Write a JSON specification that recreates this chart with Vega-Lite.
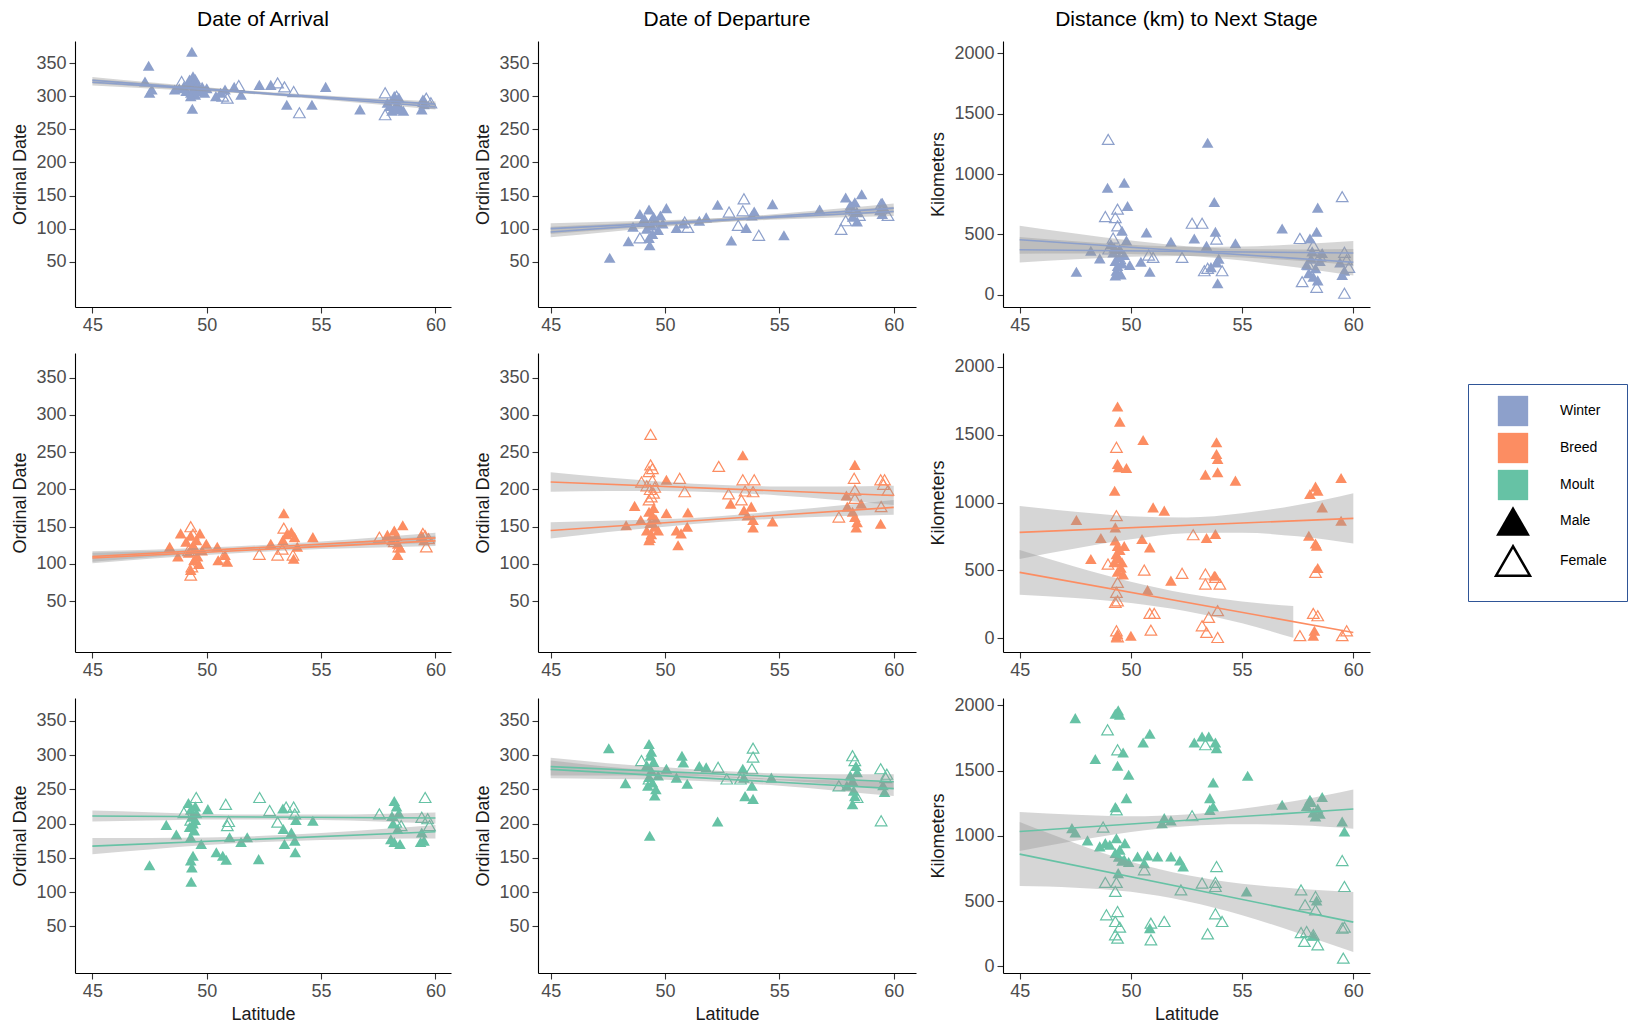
{
"$schema": "https://vega.github.io/schema/vega-lite/v6.json",
"autosize": {"type": "pad"},
"padding": {"left": 11, "top": 9, "right": 2, "bottom": 2},
"background": "white",
"datasets": {
"wa": [
{"sex":"M","lat":47.46,"value":346},{"sex":"M","lat":49.35,"value":367},{"sex":"M","lat":47.5,"value":305},{"sex":"M","lat":47.3,"value":322},{"sex":"M","lat":47.6,"value":310},{"sex":"M","lat":49.37,"value":281},
{"sex":"M","lat":48.6,"value":310},{"sex":"M","lat":48.8,"value":312},{"sex":"M","lat":49.0,"value":315},{"sex":"M","lat":49.1,"value":308},{"sex":"M","lat":49.2,"value":318},{"sex":"M","lat":49.25,"value":325},{"sex":"M","lat":49.3,"value":305},{"sex":"M","lat":49.35,"value":320},{"sex":"M","lat":49.4,"value":330},{"sex":"M","lat":49.45,"value":312},{"sex":"M","lat":49.5,"value":326},{"sex":"M","lat":49.5,"value":302},{"sex":"M","lat":49.6,"value":318},{"sex":"M","lat":49.7,"value":308},{"sex":"M","lat":49.8,"value":314},{"sex":"M","lat":49.9,"value":305},{"sex":"M","lat":50.0,"value":312},{"sex":"M","lat":49.3,"value":300},
{"sex":"M","lat":50.4,"value":300},{"sex":"M","lat":50.6,"value":305},{"sex":"M","lat":50.8,"value":310},{"sex":"M","lat":51.2,"value":314},{"sex":"M","lat":51.5,"value":302},{"sex":"M","lat":52.3,"value":317},{"sex":"M","lat":52.8,"value":317},{"sex":"M","lat":53.5,"value":287},{"sex":"M","lat":54.6,"value":287},{"sex":"M","lat":55.2,"value":314},{"sex":"M","lat":56.7,"value":280},
{"sex":"M","lat":57.9,"value":290},{"sex":"M","lat":58.0,"value":285},{"sex":"M","lat":58.1,"value":278},{"sex":"M","lat":58.2,"value":300},{"sex":"M","lat":58.25,"value":295},{"sex":"M","lat":58.3,"value":288},{"sex":"M","lat":58.35,"value":282},{"sex":"M","lat":58.4,"value":298},{"sex":"M","lat":58.5,"value":280},{"sex":"M","lat":58.6,"value":278},{"sex":"M","lat":59.45,"value":295},{"sex":"M","lat":59.4,"value":280},{"sex":"M","lat":59.5,"value":288},
{"sex":"F","lat":48.9,"value":322},{"sex":"F","lat":49.5,"value":318},{"sex":"F","lat":50.7,"value":300},{"sex":"F","lat":50.9,"value":297},{"sex":"F","lat":51.4,"value":316},{"sex":"F","lat":53.1,"value":320},{"sex":"F","lat":53.4,"value":314},{"sex":"F","lat":53.8,"value":307},{"sex":"F","lat":54.05,"value":275},{"sex":"F","lat":57.8,"value":305},{"sex":"F","lat":57.8,"value":272},{"sex":"F","lat":58.2,"value":290},{"sex":"F","lat":58.3,"value":300},{"sex":"F","lat":59.6,"value":297},{"sex":"F","lat":59.8,"value":290},{"sex":"F","lat":59.5,"value":292}
],
"wd": [
{"sex":"M","lat":47.58,"value":56},{"sex":"M","lat":48.4,"value":81},{"sex":"M","lat":49.33,"value":75},{"sex":"M","lat":49.3,"value":86},{"sex":"M","lat":48.9,"value":122},{"sex":"M","lat":49.3,"value":129},{"sex":"M","lat":50.06,"value":131},{"sex":"M","lat":49.8,"value":120},{"sex":"M","lat":49.0,"value":110},{"sex":"M","lat":49.2,"value":100},{"sex":"M","lat":49.4,"value":105},{"sex":"M","lat":49.5,"value":118},{"sex":"M","lat":49.6,"value":112},{"sex":"M","lat":49.7,"value":98},{"sex":"M","lat":49.45,"value":92},{"sex":"M","lat":49.1,"value":115},{"sex":"M","lat":48.6,"value":103},{"sex":"M","lat":49.9,"value":108},{"sex":"M","lat":50.5,"value":101},{"sex":"M","lat":50.8,"value":108},{"sex":"M","lat":51.5,"value":112},{"sex":"M","lat":51.8,"value":117},{"sex":"M","lat":52.3,"value":136},{"sex":"M","lat":52.9,"value":82},{"sex":"M","lat":53.55,"value":101},{"sex":"M","lat":53.9,"value":126},{"sex":"M","lat":53.8,"value":120},{"sex":"M","lat":54.7,"value":137},{"sex":"M","lat":55.2,"value":90},{"sex":"M","lat":56.76,"value":129},{"sex":"M","lat":57.9,"value":147},{"sex":"M","lat":58.3,"value":140},{"sex":"M","lat":58.6,"value":152},{"sex":"M","lat":58.4,"value":125},{"sex":"M","lat":58.4,"value":111},{"sex":"M","lat":58.1,"value":135},{"sex":"M","lat":58.2,"value":118},{"sex":"M","lat":59.5,"value":139},{"sex":"M","lat":59.5,"value":122},{"sex":"M","lat":59.6,"value":130},{"sex":"M","lat":59.4,"value":128},
{"sex":"F","lat":48.9,"value":86},{"sex":"F","lat":49.4,"value":110},{"sex":"F","lat":50.86,"value":110},{"sex":"F","lat":51.0,"value":102},{"sex":"F","lat":52.8,"value":125},{"sex":"F","lat":53.2,"value":105},{"sex":"F","lat":53.45,"value":145},{"sex":"F","lat":53.4,"value":127},{"sex":"F","lat":54.1,"value":90},{"sex":"F","lat":57.7,"value":99},{"sex":"F","lat":57.9,"value":112},{"sex":"F","lat":58.15,"value":132},{"sex":"F","lat":58.5,"value":120},{"sex":"F","lat":59.45,"value":137},{"sex":"F","lat":59.75,"value":120},{"sex":"F","lat":58.3,"value":128}
],
"wk": [
{"sex":"M","lat":48.95,"value":887},{"sex":"M","lat":49.7,"value":928},{"sex":"M","lat":49.85,"value":736},{"sex":"M","lat":49.6,"value":530},{"sex":"M","lat":50.7,"value":516},{"sex":"M","lat":47.55,"value":192},{"sex":"M","lat":48.2,"value":365},{"sex":"M","lat":48.6,"value":302},{"sex":"M","lat":49.1,"value":420},{"sex":"M","lat":49.2,"value":350},{"sex":"M","lat":49.3,"value":280},{"sex":"M","lat":49.35,"value":200},{"sex":"M","lat":49.4,"value":240},{"sex":"M","lat":49.45,"value":310},{"sex":"M","lat":49.5,"value":380},{"sex":"M","lat":49.55,"value":170},{"sex":"M","lat":49.6,"value":260},{"sex":"M","lat":49.7,"value":330},{"sex":"M","lat":49.8,"value":450},{"sex":"M","lat":49.3,"value":160},{"sex":"M","lat":49.25,"value":390},{"sex":"M","lat":49.95,"value":247},{"sex":"M","lat":50.45,"value":275},{"sex":"M","lat":50.85,"value":192},{"sex":"M","lat":51.8,"value":440},{"sex":"M","lat":52.85,"value":467},{"sex":"M","lat":53.45,"value":1258},{"sex":"M","lat":53.4,"value":407},{"sex":"M","lat":53.75,"value":769},{"sex":"M","lat":53.8,"value":522},{"sex":"M","lat":53.85,"value":269},{"sex":"M","lat":53.9,"value":96},{"sex":"M","lat":53.6,"value":230},{"sex":"M","lat":53.95,"value":300},{"sex":"M","lat":54.7,"value":428},{"sex":"M","lat":56.8,"value":549},{"sex":"M","lat":58.05,"value":467},{"sex":"M","lat":58.35,"value":522},{"sex":"M","lat":58.4,"value":722},{"sex":"M","lat":57.9,"value":250},{"sex":"M","lat":58.0,"value":180},{"sex":"M","lat":58.1,"value":300},{"sex":"M","lat":58.2,"value":150},{"sex":"M","lat":58.3,"value":220},{"sex":"M","lat":58.4,"value":120},{"sex":"M","lat":58.5,"value":280},{"sex":"M","lat":58.6,"value":346},{"sex":"M","lat":58.15,"value":360},{"sex":"M","lat":59.5,"value":165},{"sex":"M","lat":59.4,"value":269},{"sex":"M","lat":59.6,"value":200},
{"sex":"F","lat":48.98,"value":1286},{"sex":"F","lat":48.85,"value":648},{"sex":"F","lat":49.4,"value":709},{"sex":"F","lat":49.3,"value":640},{"sex":"F","lat":49.4,"value":571},{"sex":"F","lat":49.2,"value":470},{"sex":"F","lat":49.0,"value":380},{"sex":"F","lat":49.5,"value":300},{"sex":"F","lat":51.0,"value":310},{"sex":"F","lat":50.8,"value":330},{"sex":"F","lat":52.3,"value":310},{"sex":"F","lat":52.75,"value":593},{"sex":"F","lat":53.2,"value":593},{"sex":"F","lat":53.45,"value":220},{"sex":"F","lat":53.3,"value":200},{"sex":"F","lat":53.85,"value":461},{"sex":"F","lat":54.1,"value":200},{"sex":"F","lat":57.6,"value":467},{"sex":"F","lat":57.7,"value":110},{"sex":"F","lat":58.35,"value":63},{"sex":"F","lat":58.0,"value":250},{"sex":"F","lat":58.2,"value":410},{"sex":"F","lat":58.5,"value":320},{"sex":"F","lat":59.5,"value":813},{"sex":"F","lat":59.6,"value":14},{"sex":"F","lat":59.6,"value":352},{"sex":"F","lat":59.8,"value":228},{"sex":"F","lat":59.7,"value":290}
],
"ba": [
{"sex":"M","lat":48.38,"value":123},{"sex":"M","lat":48.74,"value":110},{"sex":"M","lat":48.86,"value":141},{"sex":"M","lat":49.3,"value":92},{"sex":"M","lat":49.1,"value":130},{"sex":"M","lat":49.2,"value":115},{"sex":"M","lat":49.3,"value":138},{"sex":"M","lat":49.4,"value":125},{"sex":"M","lat":49.45,"value":105},{"sex":"M","lat":49.5,"value":120},{"sex":"M","lat":49.55,"value":132},{"sex":"M","lat":49.6,"value":110},{"sex":"M","lat":49.7,"value":141},{"sex":"M","lat":49.65,"value":100},{"sex":"M","lat":49.98,"value":127},{"sex":"M","lat":49.8,"value":118},{"sex":"M","lat":50.46,"value":123},{"sex":"M","lat":50.5,"value":105},{"sex":"M","lat":50.9,"value":103},{"sex":"M","lat":50.8,"value":112},{"sex":"M","lat":52.8,"value":127},{"sex":"M","lat":53.37,"value":168},{"sex":"M","lat":53.33,"value":132},{"sex":"M","lat":53.7,"value":143},{"sex":"M","lat":53.84,"value":136},{"sex":"M","lat":53.8,"value":107},{"sex":"M","lat":53.96,"value":123},{"sex":"M","lat":53.5,"value":140},{"sex":"M","lat":54.64,"value":136},{"sex":"M","lat":57.9,"value":139},{"sex":"M","lat":58.2,"value":145},{"sex":"M","lat":58.35,"value":127},{"sex":"M","lat":58.35,"value":112},{"sex":"M","lat":58.57,"value":152},{"sex":"M","lat":58.1,"value":132},{"sex":"M","lat":58.3,"value":138},{"sex":"M","lat":58.45,"value":122},{"sex":"M","lat":59.5,"value":132},{"sex":"M","lat":59.4,"value":138},
{"sex":"F","lat":49.3,"value":150},{"sex":"F","lat":49.3,"value":85},{"sex":"F","lat":49.35,"value":96},{"sex":"F","lat":49.4,"value":140},{"sex":"F","lat":49.2,"value":118},{"sex":"F","lat":49.5,"value":106},{"sex":"F","lat":50.7,"value":108},{"sex":"F","lat":52.3,"value":113},{"sex":"F","lat":53.1,"value":112},{"sex":"F","lat":53.37,"value":148},{"sex":"F","lat":53.3,"value":120},{"sex":"F","lat":53.77,"value":112},{"sex":"F","lat":57.55,"value":136},{"sex":"F","lat":58.4,"value":123},{"sex":"F","lat":58.2,"value":130},{"sex":"F","lat":59.45,"value":141},{"sex":"F","lat":59.6,"value":123},{"sex":"F","lat":59.7,"value":134},{"sex":"F","lat":59.55,"value":138}
],
"bd": [
{"sex":"F","lat":49.37,"value":274},{"sex":"F","lat":49.37,"value":233},{"sex":"F","lat":49.3,"value":224},{"sex":"F","lat":49.45,"value":228},{"sex":"F","lat":48.97,"value":210},{"sex":"F","lat":49.2,"value":205},{"sex":"F","lat":49.35,"value":200},{"sex":"F","lat":49.4,"value":190},{"sex":"F","lat":49.5,"value":195},{"sex":"F","lat":49.3,"value":186},{"sex":"F","lat":49.45,"value":212},{"sex":"F","lat":49.55,"value":203},{"sex":"F","lat":50.64,"value":215},{"sex":"F","lat":50.86,"value":197},{"sex":"F","lat":52.35,"value":231},{"sex":"F","lat":52.78,"value":194},{"sex":"F","lat":53.4,"value":213},{"sex":"F","lat":53.34,"value":186},{"sex":"F","lat":53.9,"value":213},{"sex":"F","lat":53.85,"value":197},{"sex":"F","lat":53.5,"value":198},{"sex":"F","lat":58.27,"value":215},{"sex":"F","lat":58.3,"value":199},{"sex":"F","lat":57.6,"value":163},{"sex":"F","lat":58.3,"value":188},{"sex":"F","lat":59.43,"value":213},{"sex":"F","lat":59.6,"value":213},{"sex":"F","lat":59.75,"value":199},{"sex":"F","lat":59.45,"value":177},{"sex":"F","lat":59.55,"value":207},
{"sex":"M","lat":48.67,"value":178},{"sex":"M","lat":48.3,"value":152},{"sex":"M","lat":48.94,"value":159},{"sex":"M","lat":49.3,"value":132},{"sex":"M","lat":49.2,"value":145},{"sex":"M","lat":49.3,"value":170},{"sex":"M","lat":49.35,"value":155},{"sex":"M","lat":49.4,"value":140},{"sex":"M","lat":49.45,"value":165},{"sex":"M","lat":49.5,"value":175},{"sex":"M","lat":49.55,"value":150},{"sex":"M","lat":49.6,"value":160},{"sex":"M","lat":49.7,"value":145},{"sex":"M","lat":49.35,"value":135},{"sex":"M","lat":50.06,"value":213},{"sex":"M","lat":50.06,"value":168},{"sex":"M","lat":50.5,"value":145},{"sex":"M","lat":50.57,"value":125},{"sex":"M","lat":50.7,"value":141},{"sex":"M","lat":50.97,"value":150},{"sex":"M","lat":51.0,"value":169},{"sex":"M","lat":52.87,"value":181},{"sex":"M","lat":53.4,"value":246},{"sex":"M","lat":53.45,"value":172},{"sex":"M","lat":53.77,"value":177},{"sex":"M","lat":53.85,"value":159},{"sex":"M","lat":53.85,"value":149},{"sex":"M","lat":53.6,"value":165},{"sex":"M","lat":54.7,"value":157},{"sex":"M","lat":58.3,"value":233},{"sex":"M","lat":57.93,"value":192},{"sex":"M","lat":57.97,"value":177},{"sex":"M","lat":58.3,"value":163},{"sex":"M","lat":58.36,"value":149},{"sex":"M","lat":58.58,"value":181},{"sex":"M","lat":58.2,"value":170},{"sex":"M","lat":58.4,"value":156},{"sex":"M","lat":59.43,"value":154}
],
"bk": [
{"sex":"M","lat":49.4,"value":1706},{"sex":"M","lat":49.5,"value":1595},{"sex":"M","lat":50.55,"value":1460},{"sex":"M","lat":49.4,"value":1283},{"sex":"M","lat":49.45,"value":1259},{"sex":"M","lat":49.8,"value":1254},{"sex":"M","lat":49.27,"value":1087},{"sex":"M","lat":51.0,"value":964},{"sex":"M","lat":51.5,"value":940},{"sex":"M","lat":47.55,"value":871},{"sex":"M","lat":49.3,"value":817},{"sex":"M","lat":48.65,"value":739},{"sex":"M","lat":50.5,"value":731},{"sex":"M","lat":50.85,"value":670},{"sex":"M","lat":48.2,"value":584},{"sex":"M","lat":49.3,"value":720},{"sex":"M","lat":49.4,"value":680},{"sex":"M","lat":49.5,"value":650},{"sex":"M","lat":49.35,"value":620},{"sex":"M","lat":49.45,"value":590},{"sex":"M","lat":49.6,"value":560},{"sex":"M","lat":49.55,"value":520},{"sex":"M","lat":49.4,"value":490},{"sex":"M","lat":49.7,"value":680},{"sex":"M","lat":49.25,"value":560},{"sex":"M","lat":49.65,"value":470},{"sex":"M","lat":51.8,"value":425},{"sex":"M","lat":50.75,"value":356},{"sex":"M","lat":49.4,"value":32},{"sex":"M","lat":50.0,"value":20},{"sex":"M","lat":49.35,"value":12},{"sex":"M","lat":53.85,"value":1443},{"sex":"M","lat":53.85,"value":1357},{"sex":"M","lat":53.9,"value":1320},{"sex":"M","lat":53.9,"value":1222},{"sex":"M","lat":53.35,"value":1205},{"sex":"M","lat":54.7,"value":1161},{"sex":"M","lat":53.4,"value":739},{"sex":"M","lat":53.8,"value":768},{"sex":"M","lat":53.75,"value":461},{"sex":"M","lat":59.45,"value":1180},{"sex":"M","lat":58.3,"value":1117},{"sex":"M","lat":58.05,"value":1063},{"sex":"M","lat":58.4,"value":1087},{"sex":"M","lat":58.6,"value":964},{"sex":"M","lat":58.0,"value":756},{"sex":"M","lat":58.3,"value":699},{"sex":"M","lat":58.35,"value":682},{"sex":"M","lat":58.4,"value":518},{"sex":"M","lat":59.45,"value":866},{"sex":"M","lat":58.2,"value":20},{"sex":"M","lat":58.25,"value":56},
{"sex":"F","lat":49.35,"value":1406},{"sex":"F","lat":49.35,"value":903},{"sex":"F","lat":48.97,"value":547},{"sex":"F","lat":50.6,"value":503},{"sex":"F","lat":49.4,"value":412},{"sex":"F","lat":49.35,"value":339},{"sex":"F","lat":49.4,"value":277},{"sex":"F","lat":49.3,"value":265},{"sex":"F","lat":49.35,"value":56},{"sex":"F","lat":49.4,"value":12},{"sex":"F","lat":50.85,"value":184},{"sex":"F","lat":51.05,"value":184},{"sex":"F","lat":50.9,"value":61},{"sex":"F","lat":52.3,"value":479},{"sex":"F","lat":52.8,"value":763},{"sex":"F","lat":53.35,"value":474},{"sex":"F","lat":53.35,"value":400},{"sex":"F","lat":53.8,"value":449},{"sex":"F","lat":54.0,"value":400},{"sex":"F","lat":53.9,"value":204},{"sex":"F","lat":53.5,"value":155},{"sex":"F","lat":53.2,"value":93},{"sex":"F","lat":53.4,"value":44},{"sex":"F","lat":53.9,"value":7},{"sex":"F","lat":57.6,"value":20},{"sex":"F","lat":58.2,"value":184},{"sex":"F","lat":58.4,"value":167},{"sex":"F","lat":58.3,"value":486},{"sex":"F","lat":59.5,"value":20},{"sex":"F","lat":59.7,"value":56}
],
"ma": [
{"sex":"M","lat":47.5,"value":139},{"sex":"M","lat":48.23,"value":198},{"sex":"M","lat":48.67,"value":184},{"sex":"M","lat":49.32,"value":115},{"sex":"M","lat":49.2,"value":230},{"sex":"M","lat":49.3,"value":220},{"sex":"M","lat":49.35,"value":210},{"sex":"M","lat":49.4,"value":200},{"sex":"M","lat":49.45,"value":190},{"sex":"M","lat":49.5,"value":225},{"sex":"M","lat":49.3,"value":180},{"sex":"M","lat":49.4,"value":153},{"sex":"M","lat":49.35,"value":136},{"sex":"M","lat":49.3,"value":146},{"sex":"M","lat":49.5,"value":205},{"sex":"M","lat":49.55,"value":215},{"sex":"M","lat":49.25,"value":195},{"sex":"M","lat":49.76,"value":170},{"sex":"M","lat":50.05,"value":221},{"sex":"M","lat":50.42,"value":158},{"sex":"M","lat":50.7,"value":153},{"sex":"M","lat":50.85,"value":147},{"sex":"M","lat":51.0,"value":180},{"sex":"M","lat":51.5,"value":173},{"sex":"M","lat":51.77,"value":180},{"sex":"M","lat":52.27,"value":148},{"sex":"M","lat":53.33,"value":222},{"sex":"M","lat":53.35,"value":192},{"sex":"M","lat":53.4,"value":170},{"sex":"M","lat":53.7,"value":187},{"sex":"M","lat":53.87,"value":158},{"sex":"M","lat":53.85,"value":175},{"sex":"M","lat":53.9,"value":205},{"sex":"M","lat":54.64,"value":204},{"sex":"M","lat":58.2,"value":233},{"sex":"M","lat":58.1,"value":211},{"sex":"M","lat":58.35,"value":192},{"sex":"M","lat":58.2,"value":173},{"sex":"M","lat":58.45,"value":170},{"sex":"M","lat":58.05,"value":177},{"sex":"M","lat":58.3,"value":225},{"sex":"M","lat":58.15,"value":200},{"sex":"M","lat":58.4,"value":215},{"sex":"M","lat":59.4,"value":187},{"sex":"M","lat":59.5,"value":175},{"sex":"M","lat":59.35,"value":173},
{"sex":"F","lat":49.0,"value":216},{"sex":"F","lat":49.54,"value":238},{"sex":"F","lat":50.83,"value":228},{"sex":"F","lat":50.96,"value":203},{"sex":"F","lat":50.9,"value":197},{"sex":"F","lat":52.31,"value":238},{"sex":"F","lat":52.75,"value":219},{"sex":"F","lat":53.1,"value":202},{"sex":"F","lat":53.47,"value":224},{"sex":"F","lat":53.8,"value":224},{"sex":"F","lat":53.85,"value":214},{"sex":"F","lat":57.55,"value":214},{"sex":"F","lat":58.27,"value":202},{"sex":"F","lat":58.5,"value":197},{"sex":"F","lat":59.55,"value":238},{"sex":"F","lat":59.4,"value":209},{"sex":"F","lat":59.66,"value":207},{"sex":"F","lat":59.74,"value":197},{"sex":"F","lat":49.3,"value":205}
],
"md": [
{"sex":"M","lat":47.54,"value":310},{"sex":"M","lat":48.27,"value":259},{"sex":"M","lat":49.33,"value":182},{"sex":"M","lat":49.3,"value":316},{"sex":"M","lat":49.35,"value":299},{"sex":"M","lat":49.4,"value":277},{"sex":"M","lat":49.45,"value":260},{"sex":"M","lat":49.55,"value":241},{"sex":"M","lat":49.2,"value":285},{"sex":"M","lat":49.3,"value":268},{"sex":"M","lat":49.4,"value":305},{"sex":"M","lat":49.5,"value":290},{"sex":"M","lat":49.6,"value":250},{"sex":"M","lat":49.25,"value":255},{"sex":"M","lat":49.7,"value":270},{"sex":"M","lat":50.06,"value":280},{"sex":"M","lat":50.5,"value":267},{"sex":"M","lat":50.74,"value":299},{"sex":"M","lat":50.8,"value":289},{"sex":"M","lat":50.97,"value":258},{"sex":"M","lat":51.5,"value":284},{"sex":"M","lat":51.8,"value":282},{"sex":"M","lat":52.3,"value":203},{"sex":"M","lat":53.4,"value":280},{"sex":"M","lat":53.45,"value":267},{"sex":"M","lat":53.5,"value":240},{"sex":"M","lat":53.85,"value":236},{"sex":"M","lat":53.8,"value":255},{"sex":"M","lat":54.65,"value":267},{"sex":"M","lat":58.2,"value":228},{"sex":"M","lat":58.3,"value":240},{"sex":"M","lat":58.1,"value":270},{"sex":"M","lat":58.35,"value":284},{"sex":"M","lat":57.95,"value":255},{"sex":"M","lat":58.2,"value":262},{"sex":"M","lat":58.4,"value":275},{"sex":"M","lat":58.25,"value":248},{"sex":"M","lat":59.53,"value":256},{"sex":"M","lat":59.6,"value":246},
{"sex":"F","lat":48.97,"value":292},{"sex":"F","lat":49.3,"value":265},{"sex":"F","lat":52.32,"value":282},{"sex":"F","lat":52.7,"value":265},{"sex":"F","lat":53.85,"value":310},{"sex":"F","lat":53.85,"value":297},{"sex":"F","lat":53.8,"value":280},{"sex":"F","lat":53.3,"value":265},{"sex":"F","lat":58.2,"value":299},{"sex":"F","lat":58.3,"value":292},{"sex":"F","lat":57.6,"value":255},{"sex":"F","lat":58.4,"value":238},{"sex":"F","lat":59.43,"value":280},{"sex":"F","lat":59.45,"value":204},{"sex":"F","lat":59.65,"value":267},{"sex":"F","lat":59.7,"value":272}
],
"mk": [
{"sex":"M","lat":47.5,"value":1903},{"sex":"M","lat":49.43,"value":1962},{"sex":"M","lat":49.5,"value":1928},{"sex":"M","lat":49.3,"value":1936},{"sex":"M","lat":48.4,"value":1589},{"sex":"M","lat":49.65,"value":1640},{"sex":"M","lat":49.4,"value":1538},{"sex":"M","lat":49.9,"value":1469},{"sex":"M","lat":50.55,"value":1716},{"sex":"M","lat":50.85,"value":1783},{"sex":"M","lat":49.8,"value":1290},{"sex":"M","lat":49.3,"value":1221},{"sex":"M","lat":52.85,"value":1716},{"sex":"M","lat":53.2,"value":1762},{"sex":"M","lat":53.5,"value":1762},{"sex":"M","lat":53.8,"value":1716},{"sex":"M","lat":53.85,"value":1673},{"sex":"M","lat":55.25,"value":1461},{"sex":"M","lat":53.7,"value":1410},{"sex":"M","lat":53.55,"value":1290},{"sex":"M","lat":53.55,"value":1200},{"sex":"M","lat":53.7,"value":1226},{"sex":"M","lat":51.5,"value":1137},{"sex":"M","lat":51.4,"value":1098},{"sex":"M","lat":51.8,"value":1119},{"sex":"M","lat":47.35,"value":1060},{"sex":"M","lat":47.5,"value":1027},{"sex":"M","lat":48.05,"value":966},{"sex":"M","lat":48.6,"value":920},{"sex":"M","lat":48.85,"value":945},{"sex":"M","lat":49.05,"value":932},{"sex":"M","lat":49.35,"value":983},{"sex":"M","lat":49.73,"value":945},{"sex":"M","lat":49.3,"value":870},{"sex":"M","lat":49.45,"value":840},{"sex":"M","lat":49.6,"value":810},{"sex":"M","lat":49.5,"value":894},{"sex":"M","lat":49.7,"value":820},{"sex":"M","lat":49.9,"value":800},{"sex":"M","lat":50.3,"value":843},{"sex":"M","lat":50.75,"value":850},{"sex":"M","lat":51.2,"value":843},{"sex":"M","lat":51.8,"value":843},{"sex":"M","lat":52.2,"value":812},{"sex":"M","lat":52.35,"value":766},{"sex":"M","lat":50.6,"value":792},{"sex":"M","lat":49.43,"value":715},{"sex":"M","lat":55.2,"value":575},{"sex":"M","lat":56.8,"value":1239},{"sex":"M","lat":58.05,"value":1277},{"sex":"M","lat":58.6,"value":1298},{"sex":"M","lat":57.9,"value":1230},{"sex":"M","lat":58.2,"value":1180},{"sex":"M","lat":58.3,"value":1150},{"sex":"M","lat":58.4,"value":1210},{"sex":"M","lat":58.1,"value":1260},{"sex":"M","lat":58.5,"value":1170},{"sex":"M","lat":59.5,"value":1111},{"sex":"M","lat":59.6,"value":1034},{"sex":"M","lat":50.85,"value":294},{"sex":"M","lat":58.35,"value":506},{"sex":"M","lat":58.2,"value":235},
{"sex":"F","lat":48.95,"value":1813},{"sex":"F","lat":49.4,"value":1660},{"sex":"F","lat":49.35,"value":1200},{"sex":"F","lat":48.75,"value":1068},{"sex":"F","lat":52.75,"value":1155},{"sex":"F","lat":53.35,"value":1699},{"sex":"F","lat":50.6,"value":741},{"sex":"F","lat":48.85,"value":644},{"sex":"F","lat":49.35,"value":644},{"sex":"F","lat":49.3,"value":575},{"sex":"F","lat":48.9,"value":396},{"sex":"F","lat":49.4,"value":421},{"sex":"F","lat":49.3,"value":345},{"sex":"F","lat":49.5,"value":301},{"sex":"F","lat":49.3,"value":243},{"sex":"F","lat":49.4,"value":217},{"sex":"F","lat":50.9,"value":332},{"sex":"F","lat":50.9,"value":204},{"sex":"F","lat":51.5,"value":345},{"sex":"F","lat":52.25,"value":587},{"sex":"F","lat":53.2,"value":639},{"sex":"F","lat":53.45,"value":250},{"sex":"F","lat":53.8,"value":404},{"sex":"F","lat":54.1,"value":345},{"sex":"F","lat":53.85,"value":766},{"sex":"F","lat":53.8,"value":644},{"sex":"F","lat":53.8,"value":613},{"sex":"F","lat":57.65,"value":587},{"sex":"F","lat":57.83,"value":473},{"sex":"F","lat":58.3,"value":536},{"sex":"F","lat":58.3,"value":434},{"sex":"F","lat":57.65,"value":260},{"sex":"F","lat":57.9,"value":268},{"sex":"F","lat":57.8,"value":192},{"sex":"F","lat":58.4,"value":166},{"sex":"F","lat":58.2,"value":243},{"sex":"F","lat":59.5,"value":812},{"sex":"F","lat":59.6,"value":613},{"sex":"F","lat":59.5,"value":294},{"sex":"F","lat":59.6,"value":301},{"sex":"F","lat":59.55,"value":64}
],
"lines": [
{"panel":"wa","sex":"M","lat":45,"value":324},{"panel":"wa","sex":"M","lat":60,"value":284},{"panel":"wa","sex":"F","lat":45,"value":321},{"panel":"wa","sex":"F","lat":60,"value":288},
{"panel":"wd","sex":"M","lat":45,"value":95},{"panel":"wd","sex":"M","lat":60,"value":131},{"panel":"wd","sex":"F","lat":45,"value":100},{"panel":"wd","sex":"F","lat":60,"value":126},
{"panel":"wk","sex":"M","lat":45,"value":374},{"panel":"wk","sex":"M","lat":60,"value":346},{"panel":"wk","sex":"F","lat":45,"value":456},{"panel":"wk","sex":"F","lat":60,"value":270},
{"panel":"ba","sex":"M","lat":45,"value":110},{"panel":"ba","sex":"M","lat":60,"value":135},{"panel":"ba","sex":"F","lat":45,"value":108},{"panel":"ba","sex":"F","lat":60,"value":131},
{"panel":"bd","sex":"F","lat":45,"value":210},{"panel":"bd","sex":"F","lat":60,"value":192},{"panel":"bd","sex":"M","lat":45,"value":145},{"panel":"bd","sex":"M","lat":60,"value":176},
{"panel":"bk","sex":"M","lat":45,"value":780},{"panel":"bk","sex":"M","lat":60,"value":883},{"panel":"bk","sex":"F","lat":45,"value":486},{"panel":"bk","sex":"F","lat":60,"value":44},
{"panel":"ma","sex":"F","lat":45,"value":211},{"panel":"ma","sex":"F","lat":60,"value":208},{"panel":"ma","sex":"M","lat":45,"value":167},{"panel":"ma","sex":"M","lat":60,"value":188},
{"panel":"md","sex":"F","lat":45,"value":283},{"panel":"md","sex":"F","lat":60,"value":261},{"panel":"md","sex":"M","lat":45,"value":279},{"panel":"md","sex":"M","lat":60,"value":251},
{"panel":"mk","sex":"M","lat":45,"value":1034},{"panel":"mk","sex":"M","lat":60,"value":1206},{"panel":"mk","sex":"F","lat":45,"value":861},{"panel":"mk","sex":"F","lat":60,"value":340}
],
"bands": [
{"panel":"wa","sex":"M","lat":45,"value":319,"upper":329},{"panel":"wa","sex":"M","lat":47.5,"value":313.5,"upper":321},{"panel":"wa","sex":"M","lat":50,"value":308,"upper":313.5},{"panel":"wa","sex":"M","lat":52.5,"value":302,"upper":306},{"panel":"wa","sex":"M","lat":55,"value":295,"upper":299.5},{"panel":"wa","sex":"M","lat":57.5,"value":287.5,"upper":293.5},{"panel":"wa","sex":"M","lat":60,"value":280,"upper":288},
{"panel":"wa","sex":"F","lat":45,"value":316,"upper":326},{"panel":"wa","sex":"F","lat":47.5,"value":311.7,"upper":319.3},{"panel":"wa","sex":"F","lat":50,"value":307.2,"upper":312.8},{"panel":"wa","sex":"F","lat":52.5,"value":302.3,"upper":306.7},{"panel":"wa","sex":"F","lat":55,"value":296.7,"upper":301.3},{"panel":"wa","sex":"F","lat":57.5,"value":290.5,"upper":296.5},{"panel":"wa","sex":"F","lat":60,"value":284,"upper":292},
{"panel":"wd","sex":"M","lat":45,"value":87,"upper":103},{"panel":"wd","sex":"M","lat":47.5,"value":95,"upper":107},{"panel":"wd","sex":"M","lat":50,"value":103,"upper":111},{"panel":"wd","sex":"M","lat":52.5,"value":110,"upper":116},{"panel":"wd","sex":"M","lat":55,"value":115.5,"upper":122.5},{"panel":"wd","sex":"M","lat":57.5,"value":120,"upper":130},{"panel":"wd","sex":"M","lat":60,"value":124,"upper":138},
{"panel":"wd","sex":"F","lat":45,"value":92,"upper":108},{"panel":"wd","sex":"F","lat":47.5,"value":98.3,"upper":110.3},{"panel":"wd","sex":"F","lat":50,"value":104.7,"upper":112.7},{"panel":"wd","sex":"F","lat":52.5,"value":110,"upper":116},{"panel":"wd","sex":"F","lat":55,"value":113.8,"upper":120.8},{"panel":"wd","sex":"F","lat":57.5,"value":116.7,"upper":126.7},{"panel":"wd","sex":"F","lat":60,"value":119,"upper":133},
{"panel":"wk","sex":"M","lat":45,"value":269,"upper":479},{"panel":"wk","sex":"M","lat":47.5,"value":294,"upper":444},{"panel":"wk","sex":"M","lat":50,"value":315,"upper":415},{"panel":"wk","sex":"M","lat":52.5,"value":322,"upper":398},{"panel":"wk","sex":"M","lat":55,"value":310,"upper":400},{"panel":"wk","sex":"M","lat":57.5,"value":283,"upper":419},{"panel":"wk","sex":"M","lat":60,"value":246,"upper":446},
{"panel":"wk","sex":"F","lat":45,"value":341,"upper":571},{"panel":"wk","sex":"F","lat":47.5,"value":343,"upper":507},{"panel":"wk","sex":"F","lat":50,"value":339,"upper":449},{"panel":"wk","sex":"F","lat":52.5,"value":323,"upper":403},{"panel":"wk","sex":"F","lat":55,"value":284,"upper":380},{"panel":"wk","sex":"F","lat":57.5,"value":226,"upper":376},{"panel":"wk","sex":"F","lat":60,"value":160,"upper":380},
{"panel":"ba","sex":"M","lat":45,"value":103,"upper":117},{"panel":"ba","sex":"M","lat":47.5,"value":109,"upper":119},{"panel":"ba","sex":"M","lat":50,"value":115,"upper":122},{"panel":"ba","sex":"M","lat":52.5,"value":119.5,"upper":125.5},{"panel":"ba","sex":"M","lat":55,"value":123,"upper":130},{"panel":"ba","sex":"M","lat":57.5,"value":126,"upper":136},{"panel":"ba","sex":"M","lat":60,"value":128,"upper":142},
{"panel":"ba","sex":"F","lat":45,"value":101,"upper":115},{"panel":"ba","sex":"F","lat":47.5,"value":107,"upper":117},{"panel":"ba","sex":"F","lat":50,"value":112,"upper":119},{"panel":"ba","sex":"F","lat":52.5,"value":116.5,"upper":122.5},{"panel":"ba","sex":"F","lat":55,"value":120,"upper":127},{"panel":"ba","sex":"F","lat":57.5,"value":122,"upper":132},{"panel":"ba","sex":"F","lat":60,"value":124,"upper":138},
{"panel":"bd","sex":"F","lat":45,"value":197,"upper":223},{"panel":"bd","sex":"F","lat":47.5,"value":198,"upper":216},{"panel":"bd","sex":"F","lat":50,"value":198,"upper":210},{"panel":"bd","sex":"F","lat":52.5,"value":196,"upper":206},{"panel":"bd","sex":"F","lat":55,"value":192,"upper":204},{"panel":"bd","sex":"F","lat":57.5,"value":186,"upper":204},{"panel":"bd","sex":"F","lat":60,"value":179,"upper":205},
{"panel":"bd","sex":"M","lat":45,"value":134,"upper":156},{"panel":"bd","sex":"M","lat":47.5,"value":143,"upper":158},{"panel":"bd","sex":"M","lat":50,"value":150,"upper":160},{"panel":"bd","sex":"M","lat":52.5,"value":156.5,"upper":164.5},{"panel":"bd","sex":"M","lat":55,"value":161,"upper":171},{"panel":"bd","sex":"M","lat":57.5,"value":164,"upper":178},{"panel":"bd","sex":"M","lat":60,"value":166,"upper":186},
{"panel":"bk","sex":"M","lat":45,"value":585,"upper":975},{"panel":"bk","sex":"M","lat":47.5,"value":662,"upper":932},{"panel":"bk","sex":"M","lat":50,"value":729,"upper":899},{"panel":"bk","sex":"M","lat":52.5,"value":774,"upper":890},{"panel":"bk","sex":"M","lat":55,"value":777,"upper":921},{"panel":"bk","sex":"M","lat":57.5,"value":751,"upper":981},{"panel":"bk","sex":"M","lat":60,"value":698,"upper":1068},
{"panel":"bk","sex":"F","lat":45,"value":321,"upper":651},{"panel":"bk","sex":"F","lat":47.5,"value":297,"upper":527},{"panel":"bk","sex":"F","lat":50,"value":261,"upper":417},{"panel":"bk","sex":"F","lat":52.5,"value":200,"upper":330},{"panel":"bk","sex":"F","lat":55,"value":111,"upper":271},{"panel":"bk","sex":"F","lat":57.3,"value":5,"upper":238},
{"panel":"ma","sex":"F","lat":45,"value":203,"upper":219},{"panel":"ma","sex":"F","lat":47.5,"value":204.5,"upper":216.5},{"panel":"ma","sex":"F","lat":50,"value":206,"upper":214},{"panel":"ma","sex":"F","lat":52.5,"value":206,"upper":213},{"panel":"ma","sex":"F","lat":55,"value":205,"upper":213},{"panel":"ma","sex":"F","lat":57.5,"value":203,"upper":214},{"panel":"ma","sex":"F","lat":60,"value":200,"upper":216},
{"panel":"ma","sex":"M","lat":45,"value":155,"upper":179},{"panel":"ma","sex":"M","lat":47.5,"value":162,"upper":179},{"panel":"ma","sex":"M","lat":50,"value":168.5,"upper":179.5},{"panel":"ma","sex":"M","lat":52.5,"value":173,"upper":182},{"panel":"ma","sex":"M","lat":55,"value":176,"upper":186},{"panel":"ma","sex":"M","lat":57.5,"value":177.5,"upper":191.5},{"panel":"ma","sex":"M","lat":60,"value":178,"upper":198},
{"panel":"md","sex":"F","lat":45,"value":270,"upper":296},{"panel":"md","sex":"F","lat":47.5,"value":270,"upper":288},{"panel":"md","sex":"F","lat":50,"value":270,"upper":282},{"panel":"md","sex":"F","lat":52.5,"value":267.5,"upper":276.5},{"panel":"md","sex":"F","lat":55,"value":263,"upper":273},{"panel":"md","sex":"F","lat":57.5,"value":257,"upper":272},{"panel":"md","sex":"F","lat":60,"value":250,"upper":272},
{"panel":"md","sex":"M","lat":45,"value":266,"upper":292},{"panel":"md","sex":"M","lat":47.5,"value":265,"upper":283},{"panel":"md","sex":"M","lat":50,"value":264,"upper":276},{"panel":"md","sex":"M","lat":52.5,"value":260.5,"upper":269.5},{"panel":"md","sex":"M","lat":55,"value":255,"upper":265},{"panel":"md","sex":"M","lat":57.5,"value":248,"upper":263},{"panel":"md","sex":"M","lat":60,"value":240,"upper":262},
{"panel":"mk","sex":"M","lat":45,"value":884,"upper":1184},{"panel":"mk","sex":"M","lat":47.5,"value":963,"upper":1163},{"panel":"mk","sex":"M","lat":50,"value":1031,"upper":1151},{"panel":"mk","sex":"M","lat":52.5,"value":1075,"upper":1165},{"panel":"mk","sex":"M","lat":55,"value":1089,"upper":1209},{"panel":"mk","sex":"M","lat":57.5,"value":1082,"upper":1272},{"panel":"mk","sex":"M","lat":60,"value":1056,"upper":1356},
{"panel":"mk","sex":"F","lat":45,"value":616,"upper":1106},{"panel":"mk","sex":"F","lat":47.5,"value":604,"upper":944},{"panel":"mk","sex":"F","lat":50,"value":572,"upper":802},{"panel":"mk","sex":"F","lat":52.5,"value":500,"upper":700},{"panel":"mk","sex":"F","lat":55,"value":393,"upper":633},{"panel":"mk","sex":"F","lat":57.5,"value":256,"upper":596},{"panel":"mk","sex":"F","lat":60,"value":110,"upper":570}
]
},
"columns": 3,
"bounds": "flush",
"align": "each",
"spacing": {"row": 46, "column": 87},
"concat": [
{"width":376,"height":266,"title":"Date of Arrival",
 "encoding":{"x":{"field":"lat","type":"quantitative","scale":{"domain":[44.24,60.68],"nice":false,"zero":false},"axis":{"values":[45,50,55,60],"title":null}},
  "y":{"field":"value","type":"quantitative","scale":{"domain":[-18.25,383.25],"nice":false,"zero":false},"axis":{"values":[50,100,150,200,250,300,350],"title":"Ordinal Date"}}},
 "layer":[
  {"data":{"name":"wa"},"transform":[{"filter":"datum.sex=='M'"}],"mark":{"type":"point","shape":"triangle-up","filled":true,"size":135,"opacity":1},
   "encoding":{"color":{"datum":"Winter","type":"nominal","scale":{"domain":["Winter","Breed","Moult","Male","Female"],"range":["#8DA0CB","#FC8D62","#66C2A5","#000000","#000000"]},
    "legend":{"title":null,"encoding":{"symbols":{"shape":{"value":{"expr":"(datum.value=='Male'||datum.value=='Female') ? 'triangle-up' : 'square'"}},"fill":{"value":{"expr":"datum.value=='Winter' ? '#8DA0CB' : datum.value=='Breed' ? '#FC8D62' : datum.value=='Moult' ? '#66C2A5' : datum.value=='Male' ? '#000000' : '#ffffff'"}},"fillOpacity":{"value":{"expr":"datum.value=='Female' ? 0 : 1"}},"stroke":{"value":{"expr":"datum.value=='Winter' ? '#8DA0CB' : datum.value=='Breed' ? '#FC8D62' : datum.value=='Moult' ? '#66C2A5' : '#000000'"}},"strokeWidth":{"value":{"expr":"datum.value=='Female' ? 2.5 : 0"}},"size":{"value":{"expr":"(datum.value=='Male'||datum.value=='Female') ? 1150 : 920"}},"opacity":{"value":1},"strokeOpacity":{"value":1}}}}}}},
  {"data":{"name":"wa"},"transform":[{"filter":"datum.sex=='F'"}],"mark":{"type":"point","shape":"triangle-up","filled":false,"size":135,"strokeWidth":1.2,"opacity":1,"color":"#8DA0CB"}},
  {"data":{"name":"bands"},"transform":[{"filter":"datum.panel=='wa'"}],"mark":{"type":"area","color":"#999999","opacity":0.4,"interpolate":"monotone","orient":"vertical"},"encoding":{"y2":{"field":"upper"},"detail":{"field":"sex"}}},
  {"data":{"name":"lines"},"transform":[{"filter":"datum.panel=='wa'"}],"mark":{"type":"line","strokeWidth":1.6,"color":"#8DA0CB"},"encoding":{"detail":{"field":"sex"}}}
 ]},
{"width":378,"height":266,"title":"Date of Departure",
 "encoding":{"x":{"field":"lat","type":"quantitative","scale":{"domain":[44.445,60.975],"nice":false,"zero":false},"axis":{"values":[45,50,55,60],"title":null}},
  "y":{"field":"value","type":"quantitative","scale":{"domain":[-18.25,383.25],"nice":false,"zero":false},"axis":{"values":[50,100,150,200,250,300,350],"title":"Ordinal Date"}}},
 "layer":[
  {"data":{"name":"wd"},"transform":[{"filter":"datum.sex=='M'"}],"mark":{"type":"point","shape":"triangle-up","filled":true,"size":135,"opacity":1},
   "encoding":{"color":{"datum":"Winter","type":"nominal","scale":{"domain":["Winter","Breed","Moult","Male","Female"],"range":["#8DA0CB","#FC8D62","#66C2A5","#000000","#000000"]},
    "legend":{"title":null,"encoding":{"symbols":{"shape":{"value":{"expr":"(datum.value=='Male'||datum.value=='Female') ? 'triangle-up' : 'square'"}},"fill":{"value":{"expr":"datum.value=='Winter' ? '#8DA0CB' : datum.value=='Breed' ? '#FC8D62' : datum.value=='Moult' ? '#66C2A5' : datum.value=='Male' ? '#000000' : '#ffffff'"}},"fillOpacity":{"value":{"expr":"datum.value=='Female' ? 0 : 1"}},"stroke":{"value":{"expr":"datum.value=='Winter' ? '#8DA0CB' : datum.value=='Breed' ? '#FC8D62' : datum.value=='Moult' ? '#66C2A5' : '#000000'"}},"strokeWidth":{"value":{"expr":"datum.value=='Female' ? 2.5 : 0"}},"size":{"value":{"expr":"(datum.value=='Male'||datum.value=='Female') ? 1150 : 920"}},"opacity":{"value":1},"strokeOpacity":{"value":1}}}}}}},
  {"data":{"name":"wd"},"transform":[{"filter":"datum.sex=='F'"}],"mark":{"type":"point","shape":"triangle-up","filled":false,"size":135,"strokeWidth":1.2,"opacity":1,"color":"#8DA0CB"}},
  {"data":{"name":"bands"},"transform":[{"filter":"datum.panel=='wd'"}],"mark":{"type":"area","color":"#999999","opacity":0.4,"interpolate":"monotone","orient":"vertical"},"encoding":{"y2":{"field":"upper"},"detail":{"field":"sex"}}},
  {"data":{"name":"lines"},"transform":[{"filter":"datum.panel=='wd'"}],"mark":{"type":"line","strokeWidth":1.6,"color":"#8DA0CB"},"encoding":{"detail":{"field":"sex"}}}
 ]},
{"width":367,"height":266,"title":"Distance (km) to Next Stage",
 "encoding":{"x":{"field":"lat","type":"quantitative","scale":{"domain":[44.25,60.75],"nice":false,"zero":false},"axis":{"values":[45,50,55,60],"title":null}},
  "y":{"field":"value","type":"quantitative","scale":{"domain":[-100,2100],"nice":false,"zero":false},"axis":{"values":[0,500,1000,1500,2000],"format":"d","title":"Kilometers"}}},
 "layer":[
  {"data":{"name":"wk"},"transform":[{"filter":"datum.sex=='M'"}],"mark":{"type":"point","shape":"triangle-up","filled":true,"size":135,"opacity":1},
   "encoding":{"color":{"datum":"Winter","type":"nominal","scale":{"domain":["Winter","Breed","Moult","Male","Female"],"range":["#8DA0CB","#FC8D62","#66C2A5","#000000","#000000"]},
    "legend":{"title":null,"encoding":{"symbols":{"shape":{"value":{"expr":"(datum.value=='Male'||datum.value=='Female') ? 'triangle-up' : 'square'"}},"fill":{"value":{"expr":"datum.value=='Winter' ? '#8DA0CB' : datum.value=='Breed' ? '#FC8D62' : datum.value=='Moult' ? '#66C2A5' : datum.value=='Male' ? '#000000' : '#ffffff'"}},"fillOpacity":{"value":{"expr":"datum.value=='Female' ? 0 : 1"}},"stroke":{"value":{"expr":"datum.value=='Winter' ? '#8DA0CB' : datum.value=='Breed' ? '#FC8D62' : datum.value=='Moult' ? '#66C2A5' : '#000000'"}},"strokeWidth":{"value":{"expr":"datum.value=='Female' ? 2.5 : 0"}},"size":{"value":{"expr":"(datum.value=='Male'||datum.value=='Female') ? 1150 : 920"}},"opacity":{"value":1},"strokeOpacity":{"value":1}}}}}}},
  {"data":{"name":"wk"},"transform":[{"filter":"datum.sex=='F'"}],"mark":{"type":"point","shape":"triangle-up","filled":false,"size":135,"strokeWidth":1.2,"opacity":1,"color":"#8DA0CB"}},
  {"data":{"name":"bands"},"transform":[{"filter":"datum.panel=='wk'"}],"mark":{"type":"area","color":"#999999","opacity":0.4,"interpolate":"monotone","orient":"vertical"},"encoding":{"y2":{"field":"upper"},"detail":{"field":"sex"}}},
  {"data":{"name":"lines"},"transform":[{"filter":"datum.panel=='wk'"}],"mark":{"type":"line","strokeWidth":1.6,"color":"#8DA0CB"},"encoding":{"detail":{"field":"sex"}}}
 ]},
{"width":376,"height":299,
 "encoding":{"x":{"field":"lat","type":"quantitative","scale":{"domain":[44.24,60.68],"nice":false,"zero":false},"axis":{"values":[45,50,55,60],"title":null}},
  "y":{"field":"value","type":"quantitative","scale":{"domain":[-18.25,383.25],"nice":false,"zero":false},"axis":{"values":[50,100,150,200,250,300,350],"title":"Ordinal Date"}}},
 "layer":[
  {"data":{"name":"ba"},"transform":[{"filter":"datum.sex=='M'"}],"mark":{"type":"point","shape":"triangle-up","filled":true,"size":135,"opacity":1},
   "encoding":{"color":{"datum":"Breed","type":"nominal","scale":{"domain":["Winter","Breed","Moult","Male","Female"],"range":["#8DA0CB","#FC8D62","#66C2A5","#000000","#000000"]},
    "legend":{"title":null,"encoding":{"symbols":{"shape":{"value":{"expr":"(datum.value=='Male'||datum.value=='Female') ? 'triangle-up' : 'square'"}},"fill":{"value":{"expr":"datum.value=='Winter' ? '#8DA0CB' : datum.value=='Breed' ? '#FC8D62' : datum.value=='Moult' ? '#66C2A5' : datum.value=='Male' ? '#000000' : '#ffffff'"}},"fillOpacity":{"value":{"expr":"datum.value=='Female' ? 0 : 1"}},"stroke":{"value":{"expr":"datum.value=='Winter' ? '#8DA0CB' : datum.value=='Breed' ? '#FC8D62' : datum.value=='Moult' ? '#66C2A5' : '#000000'"}},"strokeWidth":{"value":{"expr":"datum.value=='Female' ? 2.5 : 0"}},"size":{"value":{"expr":"(datum.value=='Male'||datum.value=='Female') ? 1150 : 920"}},"opacity":{"value":1},"strokeOpacity":{"value":1}}}}}}},
  {"data":{"name":"ba"},"transform":[{"filter":"datum.sex=='F'"}],"mark":{"type":"point","shape":"triangle-up","filled":false,"size":135,"strokeWidth":1.2,"opacity":1,"color":"#FC8D62"}},
  {"data":{"name":"bands"},"transform":[{"filter":"datum.panel=='ba'"}],"mark":{"type":"area","color":"#999999","opacity":0.4,"interpolate":"monotone","orient":"vertical"},"encoding":{"y2":{"field":"upper"},"detail":{"field":"sex"}}},
  {"data":{"name":"lines"},"transform":[{"filter":"datum.panel=='ba'"}],"mark":{"type":"line","strokeWidth":1.6,"color":"#FC8D62"},"encoding":{"detail":{"field":"sex"}}}
 ]},
{"width":378,"height":299,
 "encoding":{"x":{"field":"lat","type":"quantitative","scale":{"domain":[44.445,60.975],"nice":false,"zero":false},"axis":{"values":[45,50,55,60],"title":null}},
  "y":{"field":"value","type":"quantitative","scale":{"domain":[-18.25,383.25],"nice":false,"zero":false},"axis":{"values":[50,100,150,200,250,300,350],"title":"Ordinal Date"}}},
 "layer":[
  {"data":{"name":"bd"},"transform":[{"filter":"datum.sex=='M'"}],"mark":{"type":"point","shape":"triangle-up","filled":true,"size":135,"opacity":1},
   "encoding":{"color":{"datum":"Breed","type":"nominal","scale":{"domain":["Winter","Breed","Moult","Male","Female"],"range":["#8DA0CB","#FC8D62","#66C2A5","#000000","#000000"]},
    "legend":{"title":null,"encoding":{"symbols":{"shape":{"value":{"expr":"(datum.value=='Male'||datum.value=='Female') ? 'triangle-up' : 'square'"}},"fill":{"value":{"expr":"datum.value=='Winter' ? '#8DA0CB' : datum.value=='Breed' ? '#FC8D62' : datum.value=='Moult' ? '#66C2A5' : datum.value=='Male' ? '#000000' : '#ffffff'"}},"fillOpacity":{"value":{"expr":"datum.value=='Female' ? 0 : 1"}},"stroke":{"value":{"expr":"datum.value=='Winter' ? '#8DA0CB' : datum.value=='Breed' ? '#FC8D62' : datum.value=='Moult' ? '#66C2A5' : '#000000'"}},"strokeWidth":{"value":{"expr":"datum.value=='Female' ? 2.5 : 0"}},"size":{"value":{"expr":"(datum.value=='Male'||datum.value=='Female') ? 1150 : 920"}},"opacity":{"value":1},"strokeOpacity":{"value":1}}}}}}},
  {"data":{"name":"bd"},"transform":[{"filter":"datum.sex=='F'"}],"mark":{"type":"point","shape":"triangle-up","filled":false,"size":135,"strokeWidth":1.2,"opacity":1,"color":"#FC8D62"}},
  {"data":{"name":"bands"},"transform":[{"filter":"datum.panel=='bd'"}],"mark":{"type":"area","color":"#999999","opacity":0.4,"interpolate":"monotone","orient":"vertical"},"encoding":{"y2":{"field":"upper"},"detail":{"field":"sex"}}},
  {"data":{"name":"lines"},"transform":[{"filter":"datum.panel=='bd'"}],"mark":{"type":"line","strokeWidth":1.6,"color":"#FC8D62"},"encoding":{"detail":{"field":"sex"}}}
 ]},
{"width":367,"height":299,
 "encoding":{"x":{"field":"lat","type":"quantitative","scale":{"domain":[44.25,60.75],"nice":false,"zero":false},"axis":{"values":[45,50,55,60],"title":null}},
  "y":{"field":"value","type":"quantitative","scale":{"domain":[-100,2100],"nice":false,"zero":false},"axis":{"values":[0,500,1000,1500,2000],"format":"d","title":"Kilometers"}}},
 "layer":[
  {"data":{"name":"bk"},"transform":[{"filter":"datum.sex=='M'"}],"mark":{"type":"point","shape":"triangle-up","filled":true,"size":135,"opacity":1},
   "encoding":{"color":{"datum":"Breed","type":"nominal","scale":{"domain":["Winter","Breed","Moult","Male","Female"],"range":["#8DA0CB","#FC8D62","#66C2A5","#000000","#000000"]},
    "legend":{"title":null,"encoding":{"symbols":{"shape":{"value":{"expr":"(datum.value=='Male'||datum.value=='Female') ? 'triangle-up' : 'square'"}},"fill":{"value":{"expr":"datum.value=='Winter' ? '#8DA0CB' : datum.value=='Breed' ? '#FC8D62' : datum.value=='Moult' ? '#66C2A5' : datum.value=='Male' ? '#000000' : '#ffffff'"}},"fillOpacity":{"value":{"expr":"datum.value=='Female' ? 0 : 1"}},"stroke":{"value":{"expr":"datum.value=='Winter' ? '#8DA0CB' : datum.value=='Breed' ? '#FC8D62' : datum.value=='Moult' ? '#66C2A5' : '#000000'"}},"strokeWidth":{"value":{"expr":"datum.value=='Female' ? 2.5 : 0"}},"size":{"value":{"expr":"(datum.value=='Male'||datum.value=='Female') ? 1150 : 920"}},"opacity":{"value":1},"strokeOpacity":{"value":1}}}}}}},
  {"data":{"name":"bk"},"transform":[{"filter":"datum.sex=='F'"}],"mark":{"type":"point","shape":"triangle-up","filled":false,"size":135,"strokeWidth":1.2,"opacity":1,"color":"#FC8D62"}},
  {"data":{"name":"bands"},"transform":[{"filter":"datum.panel=='bk'"}],"mark":{"type":"area","color":"#999999","opacity":0.4,"interpolate":"monotone","orient":"vertical"},"encoding":{"y2":{"field":"upper"},"detail":{"field":"sex"}}},
  {"data":{"name":"lines"},"transform":[{"filter":"datum.panel=='bk'"}],"mark":{"type":"line","strokeWidth":1.6,"color":"#FC8D62"},"encoding":{"detail":{"field":"sex"}}}
 ]},
{"width":376,"height":275,
 "encoding":{"x":{"field":"lat","type":"quantitative","scale":{"domain":[44.24,60.68],"nice":false,"zero":false},"axis":{"values":[45,50,55,60],"title":"Latitude"}},
  "y":{"field":"value","type":"quantitative","scale":{"domain":[-18.25,383.25],"nice":false,"zero":false},"axis":{"values":[50,100,150,200,250,300,350],"title":"Ordinal Date"}}},
 "layer":[
  {"data":{"name":"ma"},"transform":[{"filter":"datum.sex=='M'"}],"mark":{"type":"point","shape":"triangle-up","filled":true,"size":135,"opacity":1},
   "encoding":{"color":{"datum":"Moult","type":"nominal","scale":{"domain":["Winter","Breed","Moult","Male","Female"],"range":["#8DA0CB","#FC8D62","#66C2A5","#000000","#000000"]},
    "legend":{"title":null,"encoding":{"symbols":{"shape":{"value":{"expr":"(datum.value=='Male'||datum.value=='Female') ? 'triangle-up' : 'square'"}},"fill":{"value":{"expr":"datum.value=='Winter' ? '#8DA0CB' : datum.value=='Breed' ? '#FC8D62' : datum.value=='Moult' ? '#66C2A5' : datum.value=='Male' ? '#000000' : '#ffffff'"}},"fillOpacity":{"value":{"expr":"datum.value=='Female' ? 0 : 1"}},"stroke":{"value":{"expr":"datum.value=='Winter' ? '#8DA0CB' : datum.value=='Breed' ? '#FC8D62' : datum.value=='Moult' ? '#66C2A5' : '#000000'"}},"strokeWidth":{"value":{"expr":"datum.value=='Female' ? 2.5 : 0"}},"size":{"value":{"expr":"(datum.value=='Male'||datum.value=='Female') ? 1150 : 920"}},"opacity":{"value":1},"strokeOpacity":{"value":1}}}}}}},
  {"data":{"name":"ma"},"transform":[{"filter":"datum.sex=='F'"}],"mark":{"type":"point","shape":"triangle-up","filled":false,"size":135,"strokeWidth":1.2,"opacity":1,"color":"#66C2A5"}},
  {"data":{"name":"bands"},"transform":[{"filter":"datum.panel=='ma'"}],"mark":{"type":"area","color":"#999999","opacity":0.4,"interpolate":"monotone","orient":"vertical"},"encoding":{"y2":{"field":"upper"},"detail":{"field":"sex"}}},
  {"data":{"name":"lines"},"transform":[{"filter":"datum.panel=='ma'"}],"mark":{"type":"line","strokeWidth":1.6,"color":"#66C2A5"},"encoding":{"detail":{"field":"sex"}}}
 ]},
{"width":378,"height":275,
 "encoding":{"x":{"field":"lat","type":"quantitative","scale":{"domain":[44.445,60.975],"nice":false,"zero":false},"axis":{"values":[45,50,55,60],"title":"Latitude"}},
  "y":{"field":"value","type":"quantitative","scale":{"domain":[-18.25,383.25],"nice":false,"zero":false},"axis":{"values":[50,100,150,200,250,300,350],"title":"Ordinal Date"}}},
 "layer":[
  {"data":{"name":"md"},"transform":[{"filter":"datum.sex=='M'"}],"mark":{"type":"point","shape":"triangle-up","filled":true,"size":135,"opacity":1},
   "encoding":{"color":{"datum":"Moult","type":"nominal","scale":{"domain":["Winter","Breed","Moult","Male","Female"],"range":["#8DA0CB","#FC8D62","#66C2A5","#000000","#000000"]},
    "legend":{"title":null,"encoding":{"symbols":{"shape":{"value":{"expr":"(datum.value=='Male'||datum.value=='Female') ? 'triangle-up' : 'square'"}},"fill":{"value":{"expr":"datum.value=='Winter' ? '#8DA0CB' : datum.value=='Breed' ? '#FC8D62' : datum.value=='Moult' ? '#66C2A5' : datum.value=='Male' ? '#000000' : '#ffffff'"}},"fillOpacity":{"value":{"expr":"datum.value=='Female' ? 0 : 1"}},"stroke":{"value":{"expr":"datum.value=='Winter' ? '#8DA0CB' : datum.value=='Breed' ? '#FC8D62' : datum.value=='Moult' ? '#66C2A5' : '#000000'"}},"strokeWidth":{"value":{"expr":"datum.value=='Female' ? 2.5 : 0"}},"size":{"value":{"expr":"(datum.value=='Male'||datum.value=='Female') ? 1150 : 920"}},"opacity":{"value":1},"strokeOpacity":{"value":1}}}}}}},
  {"data":{"name":"md"},"transform":[{"filter":"datum.sex=='F'"}],"mark":{"type":"point","shape":"triangle-up","filled":false,"size":135,"strokeWidth":1.2,"opacity":1,"color":"#66C2A5"}},
  {"data":{"name":"bands"},"transform":[{"filter":"datum.panel=='md'"}],"mark":{"type":"area","color":"#999999","opacity":0.4,"interpolate":"monotone","orient":"vertical"},"encoding":{"y2":{"field":"upper"},"detail":{"field":"sex"}}},
  {"data":{"name":"lines"},"transform":[{"filter":"datum.panel=='md'"}],"mark":{"type":"line","strokeWidth":1.6,"color":"#66C2A5"},"encoding":{"detail":{"field":"sex"}}}
 ]},
{"width":367,"height":275,
 "encoding":{"x":{"field":"lat","type":"quantitative","scale":{"domain":[44.25,60.75],"nice":false,"zero":false},"axis":{"values":[45,50,55,60],"title":"Latitude"}},
  "y":{"field":"value","type":"quantitative","scale":{"domain":[-50,2057],"nice":false,"zero":false},"axis":{"values":[0,500,1000,1500,2000],"format":"d","title":"Kilometers"}}},
 "layer":[
  {"data":{"name":"mk"},"transform":[{"filter":"datum.sex=='M'"}],"mark":{"type":"point","shape":"triangle-up","filled":true,"size":135,"opacity":1},
   "encoding":{"color":{"datum":"Moult","type":"nominal","scale":{"domain":["Winter","Breed","Moult","Male","Female"],"range":["#8DA0CB","#FC8D62","#66C2A5","#000000","#000000"]},
    "legend":{"title":null,"encoding":{"symbols":{"shape":{"value":{"expr":"(datum.value=='Male'||datum.value=='Female') ? 'triangle-up' : 'square'"}},"fill":{"value":{"expr":"datum.value=='Winter' ? '#8DA0CB' : datum.value=='Breed' ? '#FC8D62' : datum.value=='Moult' ? '#66C2A5' : datum.value=='Male' ? '#000000' : '#ffffff'"}},"fillOpacity":{"value":{"expr":"datum.value=='Female' ? 0 : 1"}},"stroke":{"value":{"expr":"datum.value=='Winter' ? '#8DA0CB' : datum.value=='Breed' ? '#FC8D62' : datum.value=='Moult' ? '#66C2A5' : '#000000'"}},"strokeWidth":{"value":{"expr":"datum.value=='Female' ? 2.5 : 0"}},"size":{"value":{"expr":"(datum.value=='Male'||datum.value=='Female') ? 1150 : 920"}},"opacity":{"value":1},"strokeOpacity":{"value":1}}}}}}},
  {"data":{"name":"mk"},"transform":[{"filter":"datum.sex=='F'"}],"mark":{"type":"point","shape":"triangle-up","filled":false,"size":135,"strokeWidth":1.2,"opacity":1,"color":"#66C2A5"}},
  {"data":{"name":"bands"},"transform":[{"filter":"datum.panel=='mk'"}],"mark":{"type":"area","color":"#999999","opacity":0.4,"interpolate":"monotone","orient":"vertical"},"encoding":{"y2":{"field":"upper"},"detail":{"field":"sex"}}},
  {"data":{"name":"lines"},"transform":[{"filter":"datum.panel=='mk'"}],"mark":{"type":"line","strokeWidth":1.6,"color":"#66C2A5"},"encoding":{"detail":{"field":"sex"}}}
 ]}
],
"config": {
 "font": "Liberation Sans",
 "view": {"stroke": null},
 "axis": {"grid": false, "domainColor": "#000000", "domainWidth": 1.1, "tickColor": "#333333", "tickWidth": 1.1, "tickSize": 6, "labelFontSize": 18, "labelColor": "#4D4D4D", "labelPadding": 3, "titleFontSize": 18, "titleFontWeight": "normal", "titleColor": "#1a1a1a"},
 "axisY": {"titlePadding": 6},
 "axisX": {"titlePadding": 5},
 "title": {"fontSize": 21, "fontWeight": "normal", "color": "#000000", "offset": 11},
 "legend": {"orient": "none", "legendX": 1393, "legendY": 343, "padding": 20, "symbolOffset": 18, "strokeColor": "#2F5597", "fillColor": "#ffffff", "symbolSize": 1000, "rowPadding": 5, "labelFontSize": 14, "labelColor": "#000000", "labelOffset": 40, "labelBaseline": "middle"}
}
}
